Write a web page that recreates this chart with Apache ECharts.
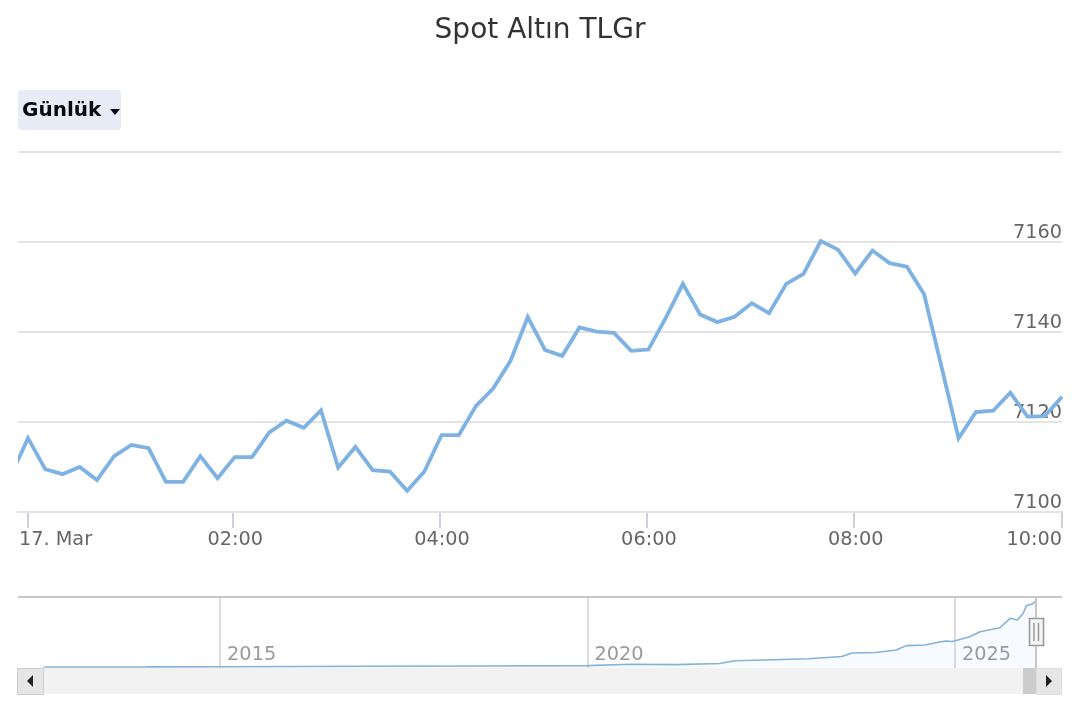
<!DOCTYPE html>
<html><head><meta charset="utf-8">
<style>html,body{margin:0;padding:0;background:#fff}#c{width:1080px;height:720px}</style>
<script src="https://cdn.jsdelivr.net/npm/echarts@6/dist/echarts.min.js"></script>
</head><body><div id="c"></div>
<script>
const titleText = 'Spot Altın TLGr';
const rangeButtonText = 'Günlük';
const minutes = [-10,0,10,20,30,40,50,60,70,80,90,100,110,120,130,140,150,160,170,180,190,200,210,220,230,240,250,260,270,280,290,300,310,320,330,340,350,360,370,380,390,400,410,420,430,440,450,460,470,480,490,500,510,520,530,540,550,560,570,580,590,600];
const prices = [7108.0,7116.4,7109.5,7108.4,7110.0,7107.1,7112.4,7114.9,7114.2,7106.7,7106.7,7112.4,7107.5,7112.2,7112.2,7117.7,7120.3,7118.7,7122.6,7109.9,7114.5,7109.3,7109.0,7104.7,7109.0,7117.1,7117.1,7123.6,7127.5,7133.6,7143.3,7136.0,7134.7,7141.0,7140.1,7139.8,7135.8,7136.1,7143.1,7150.7,7143.9,7142.2,7143.4,7146.4,7144.2,7150.7,7152.9,7160.2,7158.3,7153.0,7158.1,7155.3,7154.5,7148.4,7132.4,7116.4,7122.2,7122.5,7126.5,7121.2,7121.3,7125.6];
const timeTicks = [0,120,240,360,480,600];
const timeTickMarks = [0,119,239,359,479.4,600];
const timeLabels = ['17. Mar','02:00','04:00','06:00','08:00','10:00'];
const navYears = [2012.6,2014.0,2015.0,2017.0,2018.5,2020.0,2020.6,2021.2,2021.8,2022.0,2022.4,2023.0,2023.46,2023.6,2023.92,2024.2,2024.34,2024.59,2024.81,2024.88,2024.95,2025.0,2025.2,2025.34,2025.61,2025.75,2025.85,2025.93,2025.97,2026.05,2026.1];
const navValues = [105,115,137,180,210,253,400,360,475,760,845,970,1215,1585,1637,1900,2365,2430,2777,2850,2800,2883,3305,3833,4255,5248,5069,5808,6579,6758,7075];
const navTicks = [2015,2020,2025];

const font = '"DejaVu Sans", sans-serif';
const chart = echarts.init(document.getElementById('c'), null, {renderer:'canvas'});
const rectShape = (x,y,width,height,fill,stroke) => ({type:'rect',shape:{x,y,width,height},style:{fill,stroke:stroke||null,lineWidth:1}});
const tri = (pts,fill) => ({type:'polygon',shape:{points:pts},style:{fill}});
const decorations = [
  rectShape(0,152,18,358,'#fff'),
  rectShape(1063,152,17,358,'#fff'),
  {type:'rect',shape:{x:18,y:90,width:103,height:40,r:3},style:{fill:'#e8ecf6'}},
  {type:'text',x:22,y:111,style:{text:rangeButtonText,font:'bold 20px "DejaVu Sans", sans-serif',fill:'#0a0a14',verticalAlign:'middle',textVerticalAlign:'middle'}},
  tri([[110,109],[120,109],[115,115]],'#0a0a14'),
  {type:'line',shape:{x1:18,y1:597,x2:1062,y2:597},style:{stroke:'#c8c8c8',lineWidth:2}},
  {type:'line',shape:{x1:1036,y1:597,x2:1036,y2:668},style:{stroke:'#c8c8c8',lineWidth:2}},
  rectShape(43,668,980,26,'#f2f2f2'),
  rectShape(17.5,668.5,26,26,'#e6e6e6','#cccccc'),
  rectShape(1036.5,668.5,25,26,'#e6e6e6','#dddddd'),
  rectShape(1023,668,13,26,'#cccccc'),
  tri([[33,675],[33,687],[27,681]],'#222'),
  tri([[1046,675],[1046,687],[1052,681]],'#222'),
  {type:'rect',shape:{x:1029.5,y:618.5,width:14,height:27},style:{fill:'#f5f5f5',stroke:'#999999',lineWidth:1.6}},
  {type:'line',shape:{x1:1034,y1:623,x2:1034,y2:641},style:{stroke:'#999',lineWidth:1.5}},
  {type:'line',shape:{x1:1038.5,y1:623,x2:1038.5,y2:641},style:{stroke:'#999',lineWidth:1.5}}
].map(el=>Object.assign({silent:true,z:10},el));
chart.setOption({
  animation:false,
  backgroundColor:'#fff',
  title:{text:titleText,left:'center',top:12,textStyle:{fontFamily:font,fontSize:28,fontWeight:'normal',color:'#333'}},
  grid:[
    {left:18,right:18,top:152,height:360},
    {left:18,right:18,top:597,height:71}
  ],
  xAxis:[
    {type:'value',gridIndex:0,min:-5.8,max:600,
     axisLine:{show:true,lineStyle:{color:'#ccd0da',width:2}},
     axisTick:{show:true,length:16,customValues:timeTickMarks,lineStyle:{color:'#ccd0da',width:2}},
     splitLine:{show:false},
     axisLabel:{show:true,customValues:timeTicks,margin:18,hideOverlap:false,alignMaxLabel:'right',showMinLabel:true,showMaxLabel:true,
       formatter:v=>{const l=timeLabels[timeTicks.indexOf(v)];return v===0?'{a|'+l+'}':v===600?'{c|'+l+'}':'{b|'+l+'}';},
       rich:{a:{fontFamily:font,fontSize:19.3,color:'#666',padding:[0,0,0,55]},b:{fontFamily:font,fontSize:19.3,color:'#666',padding:[0,0,0,1]},c:{fontFamily:font,fontSize:19.3,color:'#666'}}}},
    {type:'value',gridIndex:1,min:2012.25,max:2026.456,
     axisLine:{show:false},axisTick:{show:false,customValues:navTicks},
     splitLine:{show:true,lineStyle:{color:'#dcdcdc',width:2}},
     axisLabel:{show:true,inside:true,customValues:navTicks,align:'left',verticalAlign:'bottom',margin:4,padding:[0,0,0,7],
       showMinLabel:true,showMaxLabel:true,hideOverlap:false,
       formatter:v=>String(v),fontFamily:font,fontSize:19.3,color:'#999'}}
  ],
  yAxis:[
    {type:'value',gridIndex:0,position:'right',min:7100,max:7180,interval:20,z:3,
     axisLine:{show:false},axisTick:{show:false},
     splitLine:{show:true,lineStyle:{color:'#e4e4e4',width:2}},
     axisLabel:{inside:true,align:'right',verticalAlign:'bottom',margin:0,showMaxLabel:false,formatter:v=>String(v),fontFamily:font,fontSize:19.3,color:'#666',lineHeight:18}},
    {type:'value',gridIndex:1,min:0,max:7500,show:false}
  ],
  series:[
    {type:'line',xAxisIndex:0,yAxisIndex:0,data:minutes.map((m,i)=>[m,prices[i]]),showSymbol:false,symbol:'none',
     lineStyle:{color:'#7db2e3',width:3.8,join:'miter'},clip:true},
    {type:'line',xAxisIndex:1,yAxisIndex:1,data:navYears.map((y,i)=>[y,navValues[i]]),showSymbol:false,symbol:'none',
     lineStyle:{color:'#85b2d9',width:1.6},areaStyle:{color:'rgba(124,181,236,0.09)'}}
  ],
  graphic:{elements:decorations}
});
</script></body></html>
